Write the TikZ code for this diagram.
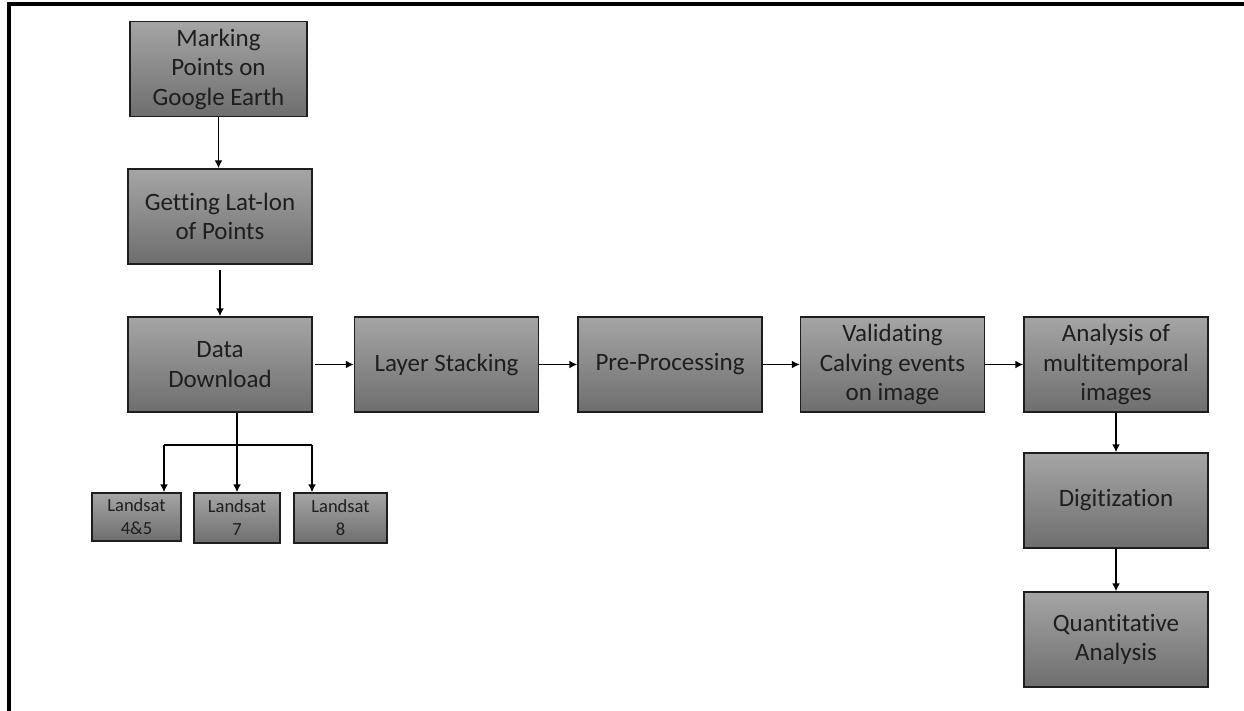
\documentclass[tikz,border=0pt]{standalone}
\usepackage{fontspec}
\setmainfont[Ligatures=NoCommon]{Carlito}
\usetikzlibrary{arrows.meta}
\definecolor{boxtop}{RGB}{165,165,165}
\definecolor{boxbot}{RGB}{110,110,110}
\definecolor{boxline}{RGB}{30,30,30}
\definecolor{boxtext}{RGB}{30,30,30}
\tikzset{
  stepbox/.style={draw=boxline, line width=1.5pt, top color=boxtop, bottom color=boxbot,
    text=boxtext, align=center, inner sep=0pt, minimum width=184pt, minimum height=95pt,
    font=\fontsize{25}{29.5}\selectfont},
  smallbox/.style={stepbox, minimum height=49pt, font=\fontsize{18.5}{23}\selectfont},
  flow/.style={draw=black, line width=1.5pt, -{Latex[length=8pt,width=8pt]}},
  plain/.style={draw=black, line width=1.5pt}
}
\begin{document}
\begin{tikzpicture}[x=1pt,y=-1pt]
\useasboundingbox (0,0) rectangle (1244,710);
\fill[white] (0,0) rectangle (1244,710);
\draw[line width=4pt, line join=miter] (9,712) -- (9,3.5) -- (1246,3.5);

\node[stepbox, minimum width=177pt] (mark) at (218.5,69) {Marking\\Points on\\Google Earth};
\node[stepbox] (lat) at (220,216.5) {Getting Lat-lon\\of Points};
\node[stepbox] (dd) at (220,364.5) {Data\\Download};
\node[stepbox] (ls) at (446.5,364.5) {Layer Stacking};
\node[stepbox] (pp) at (670,364.5) {Pre-Processing};
\node[stepbox] (val) at (892.5,364.5) {Validating\\Calving events\\on image};
\node[stepbox] (ana) at (1116,364.5) {Analysis of\\multitemporal\\images};
\node[stepbox] (dig) at (1116,500.5) {Digitization};
\node[stepbox] (qa) at (1116,639.5) {Quantitative\\Analysis};

\node[smallbox, minimum width=89pt, minimum height=48pt] (l45) at (136.5,517) {Landsat\\4\&5};
\node[smallbox, minimum width=86pt, minimum height=50pt] (l7) at (237,518) {Landsat\\7};
\node[smallbox, minimum width=93pt, minimum height=50pt] (l8) at (340.5,518) {Landsat\\8};

\draw[flow] (mark.south) -- (mark.south |- lat.north);
\draw[flow] ([yshift=-5pt]lat.south) -- (dd.north);
\draw[flow] ([xshift=2pt]dd.east) -- (ls.west);
\draw[flow] (ls.east) -- (pp.west);
\draw[flow] (pp.east) -- (val.west);
\draw[flow] (val.east) -- (ana.west);
\draw[flow] (ana.south) -- (dig.north);
\draw[flow] (dig.south) -- (qa.north);

\coordinate (j1) at (164,445);
\coordinate (j3) at (312,445);
\draw[plain] (l7 |- dd.south) -- (l7 |- j1);
\draw[plain] (j1) -- (j3);
\draw[flow] (l7 |- j1) -- (l7.north);
\draw[flow] (j1) -- (j1 |- l45.north);
\draw[flow] (j3) -- (j3 |- l8.north);
\end{tikzpicture}
\end{document}
